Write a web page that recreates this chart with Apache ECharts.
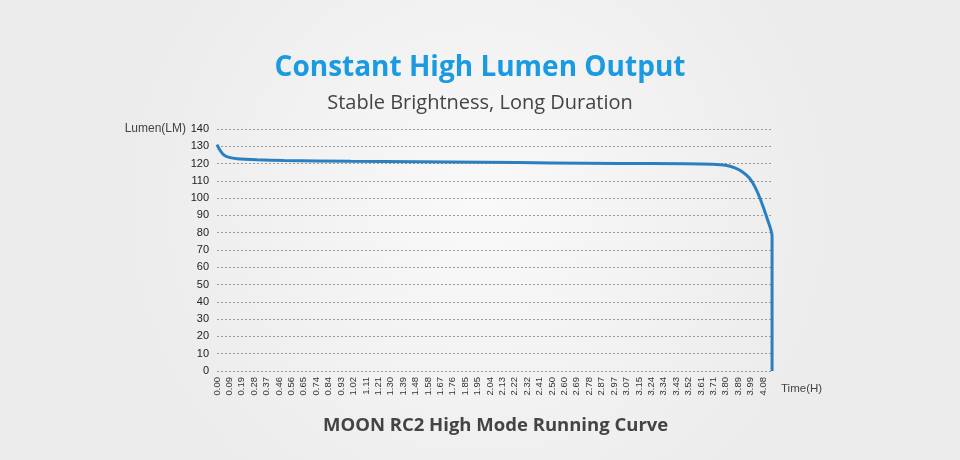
<!DOCTYPE html>
<html>
<head>
<meta charset="utf-8">
<script src="https://cdn.jsdelivr.net/npm/echarts@6/dist/echarts.min.js"></script>
<style>
html,body{margin:0;padding:0;}
#c{width:960px;height:460px;}
</style>
</head>
<body>
<div id="c"></div>
<script>
var timeLabels = ['0.00','0.09','0.19','0.28','0.37','0.46','0.56','0.65','0.74','0.84','0.93','1.02','1.11','1.21','1.30','1.39','1.48','1.58','1.67','1.76','1.85','1.95','2.04','2.13','2.22','2.32','2.41','2.50','2.60','2.69','2.78','2.87','2.97','3.07','3.15','3.24','3.34','3.43','3.52','3.61','3.71','3.80','3.89','3.99','4.08'];
var hours  = [0, 0.02, 0.05, 0.09, 0.15, 0.3, 0.5, 1.0, 1.5, 2.0, 2.5, 3.0, 3.5, 3.7, 3.8, 3.87, 3.93, 3.98, 4.02, 4.06, 4.11, 4.148, 4.148];
var lumens = [131, 128, 125, 123.6, 122.8, 122.2, 121.8, 121.3, 121, 120.7, 120.4, 120.1, 119.9, 119.6, 119, 117.5, 115, 111.5, 106.5, 99.5, 88.5, 78, 0];
var yTicks = [0, 140, 10];

var chart = echarts.init(document.getElementById('c'), null, {renderer:'canvas'});
var step = 4.08 / (timeLabels.length - 1);
var pts = hours.map(function(h, i){ return [h, lumens[i]]; });

chart.setOption({
  backgroundColor: {
    type: 'radial', x: 0.5, y: 0.45, r: 0.75,
    colorStops: [{offset:0, color:'#f9f9f9'}, {offset:1, color:'#ececec'}]
  },
  title: [
    {text:'Constant High Lumen Output', left:'center', top:49,
     textStyle:{fontFamily:'Open Sans', fontWeight:'bold', fontSize:28, color:'#1a9ae0'}},
    {text:'Stable Brightness, Long Duration', left:'center', top:88,
     textStyle:{fontFamily:'Open Sans', fontWeight:'normal', fontSize:20, color:'#444'}},
    {text:'MOON RC2 High Mode Running Curve', left:318, top:411,
     textStyle:{fontFamily:'Open Sans', fontWeight:'bold', fontSize:18.5, color:'#444'}}
  ],
  grid: {left:217, right:187, top:129, bottom:89, containLabel:false},
  xAxis: {
    type:'value', min:0, max:4.155, interval:step,
    name:'Time(H)', nameLocation:'end', nameGap:8, nameMoveOverlap:false,
    nameTextStyle:{fontFamily:'Liberation Sans', fontSize:11.5, color:'#444', verticalAlign:'top', align:'left', padding:[12,0,0,0]},
    axisLine:{show:false}, axisTick:{show:false}, splitLine:{show:false},
    axisLabel:{
      rotate:90, fontFamily:'Liberation Sans', fontSize:9.5, color:'#333', margin:6,
      showMaxLabel:true,
      formatter:function(v){ var i = Math.round(v/step); return (Math.abs(v - i*step) < 1e-6 && timeLabels[i]) ? timeLabels[i] : ''; }
    }
  },
  yAxis: {
    type:'value', min:yTicks[0], max:yTicks[1], interval:yTicks[2],
    name:'Lumen(LM)', nameLocation:'end', nameGap:0, nameMoveOverlap:false,
    nameTextStyle:{fontFamily:'Liberation Sans', fontSize:12, color:'#444', align:'right', verticalAlign:'middle', padding:[0,31,0,0]},
    axisLine:{show:false}, axisTick:{show:false},
    axisLabel:{fontFamily:'Liberation Sans', fontSize:11, color:'#222', margin:8},
    splitLine:{show:true, lineStyle:{color:'#9a9a9a', type:[2,2], width:1}}
  },
  series: [{
    type:'line', data:pts, showSymbol:false, smooth:0.25,
    lineStyle:{color:'#2a7fc1', width:3}, animation:false
  }],
  animation:false
});
</script>
</body>
</html>
